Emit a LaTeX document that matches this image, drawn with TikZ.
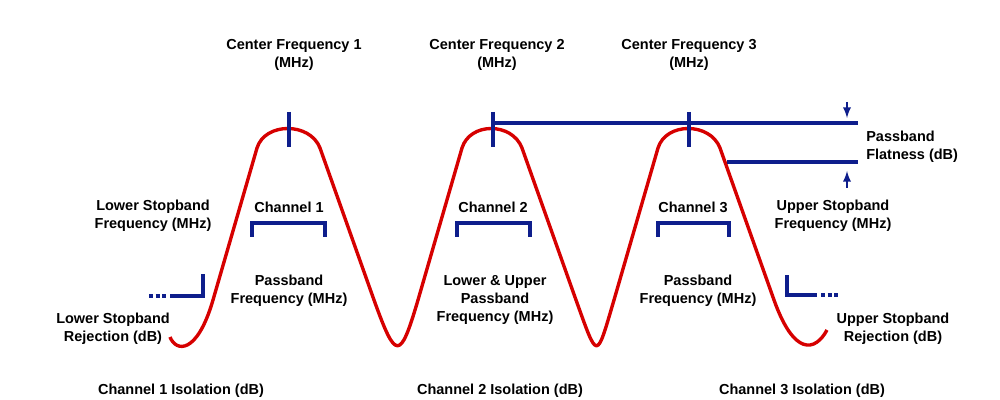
\documentclass[tikz,border=0pt]{standalone}
\usepackage{fontspec}
\setmainfont{Liberation Sans}
\usetikzlibrary{arrows}

\definecolor{filtred}{RGB}{214,0,0}
\definecolor{filtblue}{RGB}{14,30,140}

\tikzset{lbl/.style={font=\fontsize{10.3}{12.8}\selectfont\bfseries, align=center, inner sep=0pt},
         bline/.style={filtblue, line width=2.2pt},
         resp/.style={filtred, line width=2.4pt, line join=round}}

\begin{document}
\begin{tikzpicture}[x=0.025cm, y=-0.025cm]
\useasboundingbox (0,0) rectangle (1000,400);

% response curve
\draw[resp] (170,337) .. controls (176,352) and (197,355) .. (213,300)
  -- (257,148) .. controls (265,122) and (310,122) .. (320,148)
  -- (374,300) .. controls (396,361) and (400,361) .. (418,300)
  -- (462,148) .. controls (470,122) and (512,122) .. (522,148)
  -- (576,300) .. controls (598,361) and (596,361) .. (614,300)
  -- (658,148) .. controls (666,122) and (710,122) .. (720,148)
  -- (774,300) .. controls (794,356) and (815,352) .. (827,330);

% center ticks
\coordinate (tA1) at (289,112); \coordinate (tA2) at (289,147);
\coordinate (tB1) at (493,112); \coordinate (tB2) at (493,147);
\coordinate (tC1) at (689,112); \coordinate (tC2) at (689,147);
\draw[bline] (tA1) -- (tA2);
\draw[bline] (tB1) -- (tB2);
\draw[bline] (tC1) -- (tC2);

% passband flatness
\coordinate (fl1) at (493,123); \coordinate (fl2) at (858,123);
\coordinate (fl3) at (727,162); \coordinate (fl4) at (858,162);
\draw[bline] (fl1) -- (fl2);
\draw[bline] (fl3) -- (fl4);
\coordinate (dn1) at (847,102); \coordinate (dn2) at (847,118);
\coordinate (up1) at (847,188); \coordinate (up2) at (847,171);
\draw[filtblue, line width=1.6pt, -latex] (dn1) -- (dn2);
\draw[filtblue, line width=1.6pt, -latex] (up1) -- (up2);

% channel brackets
\draw[bline] (252,237) -- (252,223) -- (325,223) -- (325,237);
\draw[bline] (457,237) -- (457,223) -- (530,223) -- (530,237);
\draw[bline] (658,237) -- (658,223) -- (729,223) -- (729,237);

% stopband markers
\draw[bline] (203,274) -- (203,296) -- (170,296);
\draw[bline, dash pattern=on 2.8pt off 1.9pt] (149,296) -- (168,296);
\draw[bline] (787,275) -- (787,295) -- (817,295);
\draw[bline, dash pattern=on 2.8pt off 1.9pt] (821,295) -- (840,295);

\node[lbl] (cfA) at (294,55) {Center Frequency 1\\(MHz)};
\node[lbl] (cfB) at (497,55) {Center Frequency 2\\(MHz)};
\node[lbl] (cfC) at (689,55) {Center Frequency 3\\(MHz)};

\node[lbl, align=left, anchor=west] (flat) at (866,147) {Passband\\Flatness (dB)};

\node[lbl] (chA) at (289,207) {Channel 1};
\node[lbl] (chB) at (493,207) {Channel 2};
\node[lbl] (chC) at (693,207) {Channel 3};

\node[lbl] (pbA) at (289,291) {Passband\\Frequency (MHz)};
\node[lbl] (pbB) at (495,300) {Lower \& Upper\\Passband\\Frequency (MHz)};
\node[lbl] (pbC) at (698,291) {Passband\\Frequency (MHz)};

\node[lbl] (lsf) at (153,216) {Lower Stopband\\Frequency (MHz)};
\node[lbl] (lsr) at (113,329) {Lower Stopband\\Rejection (dB)};
\node[lbl] (usf) at (833,216) {Upper Stopband\\Frequency (MHz)};
\node[lbl] (usr) at (893,329) {Upper Stopband\\Rejection (dB)};

\node[lbl] (isoA) at (181,391) {Channel 1 Isolation (dB)};
\node[lbl] (isoB) at (500,391) {Channel 2 Isolation (dB)};
\node[lbl] (isoC) at (802,391) {Channel 3 Isolation (dB)};
\end{tikzpicture}
\end{document}
